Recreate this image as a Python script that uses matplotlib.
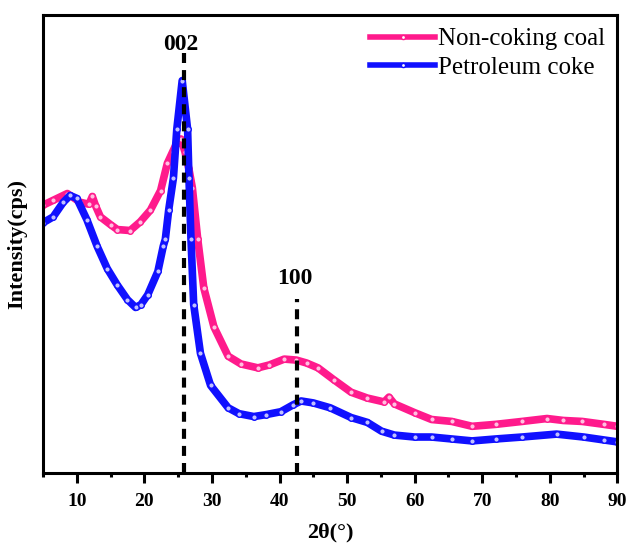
import matplotlib.pyplot as plt
from matplotlib.ticker import MultipleLocator

plt.rcParams['font.family'] = ['Liberation Serif', 'DejaVu Serif']

# XRD patterns (2theta in degrees, intensity in cps)
coal_2theta = [5, 6.5, 8.6, 10.5, 11.8, 12.3, 12.8, 13.5, 15, 16, 17.9, 19.4,
               20.9, 22.4, 23.4, 24.2, 25.0, 25.4, 26.0, 26.6, 27.1, 27.9,
               28.8, 30.3, 32.4, 34.3, 36.8, 38.5, 40.7, 42.5, 44, 45.7, 48,
               50.6, 53, 55.5, 56.2, 57, 60, 62.5, 65.5, 68.5, 72, 75.9, 79.6,
               82, 84.8, 88, 90]
coal_int = [2750, 2800, 2870, 2780, 2760, 2840, 2740, 2630, 2550, 2500, 2490,
            2580, 2700, 2900, 3180, 3300, 3420, 3430, 3300, 3120, 2930, 2400,
            1900, 1500, 1200, 1120, 1080, 1110, 1170, 1160, 1130, 1080, 960,
            830, 770, 730, 780, 710, 620, 550, 530, 480, 500, 530, 560, 540,
            530, 500, 480]

coke_2theta = [5, 6.5, 8, 9, 10, 11.5, 13, 14.5, 16, 17.5, 18.7, 19.5, 20.5,
               22, 22.8, 23.1, 23.6, 24.3, 24.8, 25.6, 26.4, 26.6, 26.9, 27.3,
               28.3, 29.8, 32.4, 34, 36.2, 38, 40.2, 42, 43.2, 45, 47.5, 50.6,
               53, 55.1, 57, 60, 62.5, 65.5, 68.5, 72, 75.9, 81, 85, 88, 90]
coke_int = [2570, 2630, 2780, 2850, 2820, 2600, 2330, 2100, 1930, 1780, 1700,
            1730, 1830, 2070, 2330, 2400, 2700, 3030, 3530, 4030, 3530, 3030,
            2400, 1730, 1230, 900, 670, 610, 580, 600, 630, 700, 740, 720,
            670, 570, 520, 430, 390, 370, 370, 350, 330, 350, 370, 400, 370,
            340, 320]

# reflection markers: position, name, label height, top of dashed guide
peak_pos = [25.8, 42.6]
peak_names = ['002', '100']
peak_label_int = [4400, 2000]
peak_line_top = [4330, 1790]

fig = plt.figure(figsize=(6.27, 5.45), dpi=100)
ax = fig.add_axes([0.0686, 0.132, 0.916, 0.840])

ax.plot(coal_2theta, coal_int, color='#ff1a8c', lw=5.5, marker='o', ms=4,
        mfc='#ffc0e0', mec='#ff1a8c', mew=1, label='Non-coking coal')
ax.plot(coke_2theta, coke_int, color='#1010ff', lw=5.5, marker='o', ms=4,
        mfc='#c0c0ff', mec='#1010ff', mew=1, label='Petroleum coke')

for pos, name, lab_y, top in zip(peak_pos, peak_names, peak_label_int,
                                 peak_line_top):
    ax.plot([pos, pos], [0, top], color='black', lw=3, dashes=(2.4, 1.7))
    ax.text(pos - 0.4, lab_y, name, ha='center', va='center', fontsize=17,
            fontweight='bold')

ax.set_xlim(5, 90)
ax.set_ylim(0, 4700)
ax.xaxis.set_major_locator(MultipleLocator(10))
ax.xaxis.set_minor_locator(MultipleLocator(5))
ax.set_yticks([])
ax.tick_params(axis='x', which='major', direction='out', length=7, width=2.2,
               labelsize=14, pad=7)
ax.tick_params(axis='x', which='minor', direction='out', length=3, width=2.2)
for lab in ax.get_xticklabels():
    lab.set_fontweight('bold')
for sp in ax.spines.values():
    sp.set_linewidth(2.2)

ax.set_xlabel('2θ(°)', fontsize=16, fontweight='bold', labelpad=9)
ax.set_ylabel('Intensity(cps)', fontsize=16, fontweight='bold', labelpad=11)

leg = ax.legend(loc='upper right', frameon=False, fontsize=18,
                handlelength=2.6, handletextpad=0.1, borderaxespad=0.1,
                labelspacing=0.25)
for h in leg.legend_handles:
    h.set_linewidth(4)
    h.set_markersize(3)
    h.set_markerfacecolor('white')

fig.savefig('out.png', dpi=100)
